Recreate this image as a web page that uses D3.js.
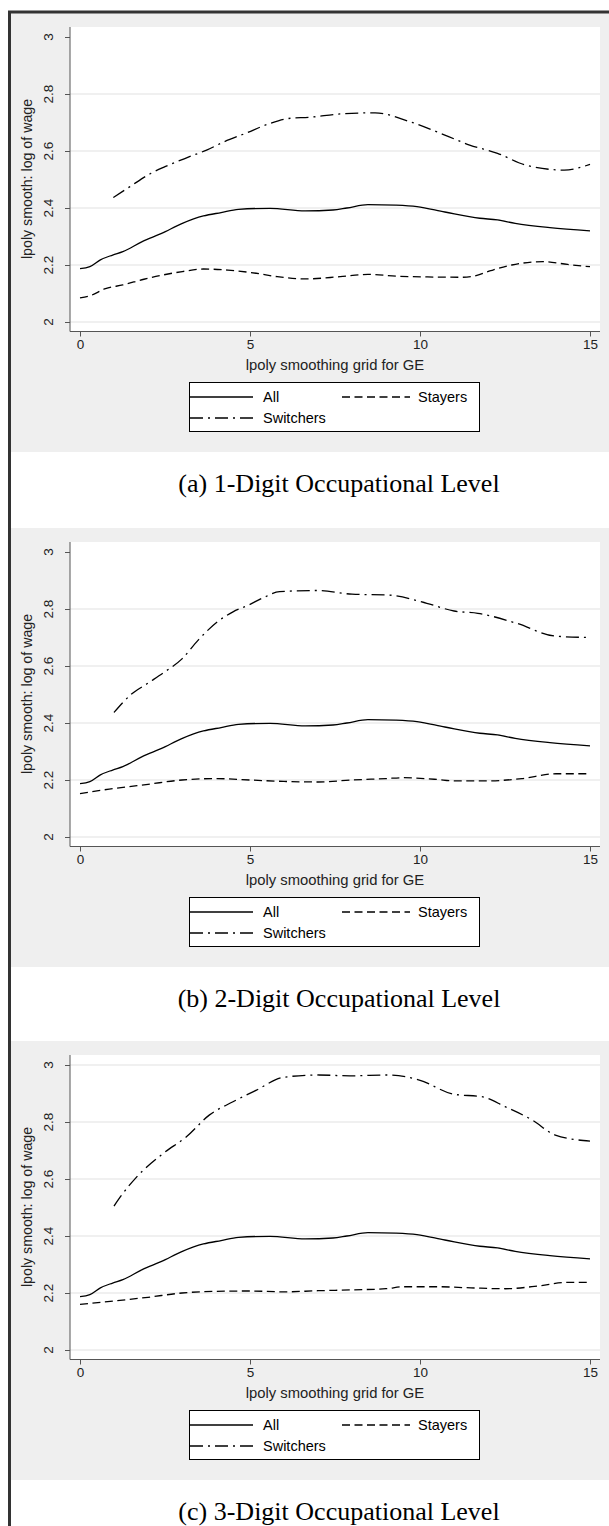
<!DOCTYPE html>
<html><head><meta charset="utf-8">
<script src="https://cdn.jsdelivr.net/npm/d3@7/dist/d3.min.js"></script>
<style>html,body{margin:0;padding:0;background:#fff;}svg{display:block;}</style>
</head><body>
<script>
// ---- data ----
const xTicks = [0, 5, 10, 15];
const yTicks = [2, 2.2, 2.4, 2.6, 2.8, 3];
const xTitle = "lpoly smoothing grid for GE";
const yTitle = "lpoly smooth: log of wage";
const seriesNames = ["All", "Stayers", "Switchers"];
const captions = ["(a) 1-Digit Occupational Level", "(b) 2-Digit Occupational Level", "(c) 3-Digit Occupational Level"];

const allX = [0, 0.29, 0.6, 0.96, 1.26, 1.83, 2.4, 3.01, 3.63, 4.15, 4.66, 5.59, 6.62, 7.44, 7.85, 8.47, 9.29, 9.91, 10.73, 11.76, 12.28, 12.8, 13.82, 15];
const allY = [2.187, 2.194, 2.218, 2.235, 2.247, 2.282, 2.311, 2.346, 2.372, 2.384, 2.395, 2.399, 2.39, 2.393, 2.4, 2.412, 2.41, 2.405, 2.386, 2.364, 2.358, 2.346, 2.331, 2.32];

const stayersX1 = [0, 0.29, 0.75, 1.26, 1.88, 2.4, 3.01, 3.63, 4.35, 5.18, 5.8, 6.62, 7.65, 8.47, 9.29, 10.22, 11.25, 11.56, 12.08, 12.7, 13.62, 14.34, 15];
const stayersY1 = [2.085, 2.092, 2.117, 2.13, 2.15, 2.164, 2.177, 2.186, 2.182, 2.171, 2.159, 2.151, 2.159, 2.167, 2.161, 2.158, 2.157, 2.16, 2.18, 2.2, 2.212, 2.202, 2.194];
const switchersX1 = [0.98, 1.47, 2.09, 2.5, 3.22, 3.74, 4.25, 4.87, 5.59, 6.2, 6.72, 7.65, 8.68, 9.7, 10.73, 11.46, 12.28, 13.1, 14.24, 15];
const switchersY1 = [2.437, 2.475, 2.522, 2.545, 2.58, 2.604, 2.633, 2.662, 2.697, 2.715, 2.718, 2.73, 2.734, 2.703, 2.656, 2.621, 2.592, 2.551, 2.533, 2.553];

const stayersX2 = [0, 0.5, 1, 2, 3, 4, 5, 6, 7, 8, 9, 9.5, 10.5, 11, 12, 13, 14, 15];
const stayersY2 = [2.152, 2.162, 2.17, 2.185, 2.2, 2.205, 2.2, 2.195, 2.193, 2.2, 2.205, 2.208, 2.202, 2.197, 2.197, 2.205, 2.222, 2.222];
const switchersX2 = [1, 1.5, 2, 2.5, 3, 3.47, 4.04, 4.5, 4.96, 5.4, 5.87, 7.01, 8, 9.07, 10.2, 11.0, 11.7, 12.84, 13.97, 15];
const switchersY2 = [2.437, 2.5, 2.54, 2.58, 2.625, 2.69, 2.755, 2.79, 2.814, 2.84, 2.861, 2.865, 2.852, 2.849, 2.82, 2.793, 2.785, 2.75, 2.705, 2.7];

const stayersX3 = [0, 1, 2, 3, 4, 5, 6, 7, 8, 9, 9.5, 10.5, 11.5, 12.5, 13.5, 14.3, 15];
const stayersY3 = [2.16, 2.172, 2.185, 2.2, 2.206, 2.207, 2.204, 2.208, 2.211, 2.215, 2.222, 2.222, 2.218, 2.215, 2.225, 2.237, 2.237];
const switchersX3 = [1, 1.19, 1.65, 2.45, 3.13, 3.81, 4.5, 5.19, 5.99, 7.01, 7.93, 9.07, 9.98, 11.01, 11.81, 12.5, 13.3, 13.98, 15];
const switchersY3 = [2.505, 2.538, 2.605, 2.69, 2.748, 2.825, 2.871, 2.912, 2.957, 2.965, 2.962, 2.965, 2.947, 2.897, 2.889, 2.854, 2.807, 2.754, 2.733];

const panels = [
  {caption: captions[0], stayers: [stayersX1, stayersY1], switchers: [switchersX1, switchersY1], topGrid: false},
  {caption: captions[1], stayers: [stayersX2, stayersY2], switchers: [switchersX2, switchersY2], topGrid: false},
  {caption: captions[2], stayers: [stayersX3, stayersY3], switchers: [switchersX3, switchersY3], topGrid: true}
];
const offsets = [0, 515, 1028];

// ---- drawing ----
const W = 609, H = 1526;
const svg = d3.select("body").append("svg").attr("width", W).attr("height", H);
const sansF = "'Liberation Sans', Arial, sans-serif";
const serifF = "'Liberation Serif', 'Times New Roman', serif";

const x = d3.scaleLinear().domain([0, 15]).range([80, 590]);
const y = d3.scaleLinear().domain([2, 3]).range([322, 37]);
const styles = {
  All: {dash: null},
  Stayers: {dash: "8,4.5"},
  Switchers: {dash: "13,5,2,5"}
};
const line = d3.line().x(d => x(d[0])).y(d => y(d[1])).curve(d3.curveMonotoneX);
const zipXY = (xs, ys) => xs.map((v, i) => [v, ys[i]]);

panels.forEach((p, i) => {
  const g = svg.append("g").attr("transform", `translate(0,${offsets[i]})`);
  g.append("rect").attr("x", 11).attr("y", 13).attr("width", W - 11).attr("height", 439).attr("fill", "#efefef");
  g.append("rect").attr("x", 70).attr("y", 27).attr("width", 530).attr("height", 304).attr("fill", "#ffffff");
  // grid
  g.selectAll(".grid").data(yTicks.filter(t => p.topGrid || t < 3)).enter().append("line")
    .attr("x1", 70).attr("x2", 600).attr("y1", d => y(d)).attr("y2", d => y(d))
    .attr("stroke", "#ebebeb").attr("stroke-width", 1.5);
  // y axis
  const ya = g.append("g").attr("transform", "translate(70,0)")
    .call(d3.axisLeft(y).tickValues(yTicks).tickSize(5).tickSizeOuter(0).tickFormat(""));
  ya.select(".domain").attr("d", "M0,27V331.5").attr("stroke", "#555");
  ya.selectAll(".tick line").attr("stroke", "#555");
  g.selectAll(".ylab").data(yTicks).enter().append("text")
    .attr("transform", d => `translate(53,${y(d)}) rotate(-90)`)
    .attr("text-anchor", "middle").attr("font-family", sansF).attr("font-size", 13.5).attr("fill", "#222")
    .text(d => d3.format("~g")(d));
  g.append("text").attr("transform", `translate(32,${(27 + 331) / 2}) rotate(-90)`)
    .attr("text-anchor", "middle").attr("font-family", sansF).attr("font-size", 14.2).attr("fill", "#222").text(yTitle);
  // x axis
  const xa = g.append("g").attr("transform", "translate(0,331.5)")
    .call(d3.axisBottom(x).tickValues(xTicks).tickSize(5).tickSizeOuter(0).tickFormat(d3.format("d")));
  xa.select(".domain").attr("d", "M70,0H600").attr("stroke", "#555");
  xa.selectAll(".tick line").attr("stroke", "#555");
  xa.selectAll(".tick text").attr("font-family", sansF).attr("font-size", 13.5).attr("fill", "#222").attr("y", 8).attr("dy", "0.71em");
  g.append("text").attr("x", 335).attr("y", 370).attr("text-anchor", "middle")
    .attr("font-family", sansF).attr("font-size", 14.8).attr("fill", "#222").text(xTitle);
  // lines
  const clipId = "clip" + i;
  g.append("clipPath").attr("id", clipId).append("rect").attr("x", 70).attr("y", 27).attr("width", 530).attr("height", 304);
  const sdata = {All: zipXY(allX, allY), Stayers: zipXY(p.stayers[0], p.stayers[1]), Switchers: zipXY(p.switchers[0], p.switchers[1])};
  seriesNames.forEach(n => {
    g.append("path").attr("d", line(sdata[n])).attr("fill", "none").attr("stroke", "#000")
      .attr("stroke-width", 1.3).attr("stroke-dasharray", styles[n].dash).attr("clip-path", `url(#${clipId})`);
  });
  // legend
  const lg = g.append("g");
  lg.append("rect").attr("x", 189.5).attr("y", 382.5).attr("width", 290).attr("height", 49)
    .attr("fill", "#fff").attr("stroke", "#000").attr("stroke-width", 1);
  const items = [
    {n: "All", x1: 190, x2: 253, tx: 263, cy: 397},
    {n: "Stayers", x1: 342, x2: 410, tx: 418, cy: 397},
    {n: "Switchers", x1: 190, x2: 253, tx: 263, cy: 418}
  ];
  items.forEach(it => {
    lg.append("line").attr("x1", it.x1).attr("x2", it.x2).attr("y1", it.cy).attr("y2", it.cy)
      .attr("stroke", "#000").attr("stroke-width", 1.6).attr("stroke-dasharray", styles[it.n].dash);
    lg.append("text").attr("x", it.tx).attr("y", it.cy + 5).attr("font-family", sansF).attr("font-size", 14.5)
      .attr("fill", "#000").text(it.n);
  });
  // caption
  g.append("text").attr("x", 339).attr("y", 492).attr("text-anchor", "middle")
    .attr("font-family", serifF).attr("font-size", 26).attr("fill", "#000").text(p.caption);
});

// outer frame
svg.append("path").attr("d", `M9.5,${H}V12H${W}`).attr("fill", "none").attr("stroke", "#333").attr("stroke-width", 3);
</script>
</body></html>
